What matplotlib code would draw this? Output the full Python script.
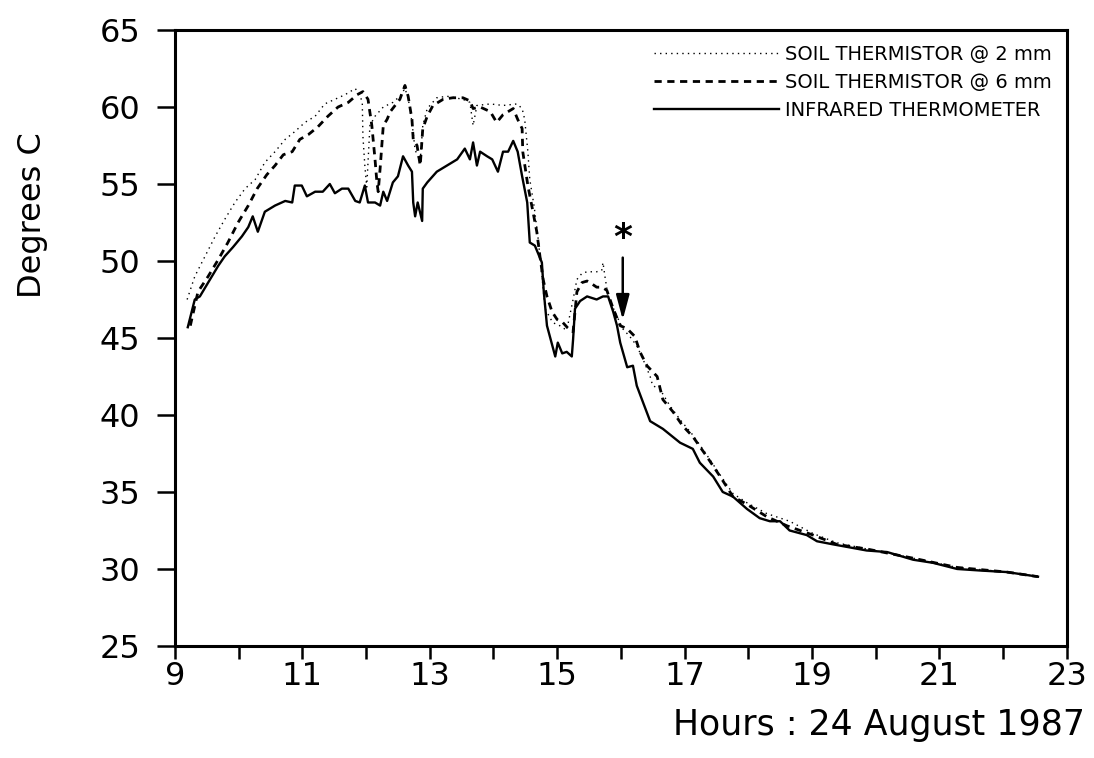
import matplotlib
matplotlib.use("Agg")
import matplotlib.pyplot as plt
from matplotlib.ticker import MultipleLocator, FuncFormatter

plt.rcParams['font.family'] = ['DejaVu Sans']

# ---- data (hours, degrees C) ----
ir_hours = [9.20, 9.31, 9.39, 9.52, 9.68, 9.78, 9.91, 10.05, 10.15, 10.22, 10.30, 10.41,
            10.57, 10.73, 10.84, 10.88, 10.99, 11.07, 11.20, 11.32, 11.43, 11.51, 11.62,
            11.72, 11.83, 11.90, 11.98, 12.03, 12.14, 12.22, 12.27, 12.33, 12.42, 12.50,
            12.58, 12.66, 12.72, 12.74, 12.77, 12.81, 12.88, 12.89, 12.96, 13.11, 13.27,
            13.43, 13.55, 13.63, 13.68, 13.74, 13.79, 13.90, 13.98, 14.07, 14.15, 14.23,
            14.31, 14.38, 14.45, 14.53, 14.57, 14.65, 14.76, 14.79, 14.84, 14.97, 15.01,
            15.08, 15.15, 15.23, 15.25, 15.28, 15.36, 15.47, 15.62, 15.72, 15.80, 15.88,
            15.94, 15.99, 16.10, 16.19, 16.25, 16.35, 16.46, 16.66, 16.93, 17.13, 17.24,
            17.45, 17.60, 17.76, 17.98, 18.18, 18.34, 18.50, 18.65, 18.92, 19.08, 19.33,
            19.86, 20.18, 20.59, 20.90, 21.28, 21.64, 22.06, 22.55]
ir_temp = [45.7, 47.5, 47.7, 48.6, 49.7, 50.3, 50.9, 51.6, 52.2, 52.9, 51.9, 53.2,
           53.6, 53.9, 53.8, 54.9, 54.9, 54.2, 54.5, 54.5, 55.0, 54.4, 54.7,
           54.7, 53.9, 53.8, 54.9, 53.8, 53.8, 53.6, 54.5, 53.9, 55.1, 55.5,
           56.8, 56.2, 55.8, 53.8, 52.9, 53.8, 52.6, 54.7, 55.1, 55.8, 56.2,
           56.6, 57.3, 56.6, 57.7, 56.2, 57.1, 56.8, 56.6, 55.8, 57.1, 57.1,
           57.8, 57.1, 55.5, 53.8, 51.2, 51.0, 49.9, 48.0, 45.8, 43.8, 44.7,
           44.0, 44.1, 43.8, 44.9, 46.9, 47.4, 47.7, 47.5, 47.7, 47.7, 46.7,
           45.8, 44.7, 43.1, 43.2, 41.9, 40.8, 39.6, 39.1, 38.2, 37.8, 36.9,
           36.0, 35.0, 34.7, 33.9, 33.3, 33.1, 33.1, 32.5, 32.2, 31.8, 31.6,
           31.2, 31.1, 30.6, 30.4, 30.0, 29.9, 29.8, 29.5]

t6_hours = [9.24, 9.36, 9.52, 9.68, 9.83, 9.99, 10.15, 10.29, 10.44, 10.57, 10.70, 10.84,
            10.96, 11.09, 11.24, 11.40, 11.56, 11.72, 11.86, 11.95, 12.03, 12.09, 12.14,
            12.17, 12.19, 12.22, 12.27, 12.33, 12.38, 12.53, 12.61, 12.66, 12.72, 12.74,
            12.80, 12.85, 12.89, 12.96, 13.05, 13.21, 13.36, 13.52, 13.63, 13.68, 13.79,
            13.95, 14.05, 14.15, 14.31, 14.38, 14.45, 14.46, 14.54, 14.62, 14.68, 14.73,
            14.78, 14.84, 14.92, 15.00, 15.09, 15.20, 15.25, 15.31, 15.39, 15.47, 15.55,
            15.62, 15.70, 15.78, 15.88, 15.99, 16.10, 16.22, 16.30, 16.41, 16.57, 16.66,
            16.82, 16.97, 17.13, 17.35, 17.56, 17.76, 17.98, 18.29, 18.61, 19.02, 19.39,
            19.86, 20.59, 21.28, 22.06, 22.55]
t6_temp = [45.8, 48.0, 49.0, 50.1, 51.2, 52.5, 53.6, 54.7, 55.6, 56.2, 56.9, 57.1,
           57.9, 58.2, 58.7, 59.4, 60.0, 60.3, 60.8, 61.0, 60.5, 58.8, 56.6,
           55.1, 54.5, 56.0, 58.8, 59.2, 59.7, 60.5, 61.4, 60.7, 59.2, 57.9,
           57.5, 56.2, 58.6, 59.4, 60.1, 60.5, 60.6, 60.6, 60.4, 59.9, 60.0,
           59.7, 59.0, 59.5, 59.9, 59.2, 58.6, 57.1, 54.9, 53.2, 51.9, 50.3,
           48.8, 47.7, 46.7, 46.2, 46.0, 45.5, 45.4, 48.0, 48.6, 48.7, 48.5,
           48.3, 48.3, 48.1, 46.9, 45.8, 45.6, 45.1, 44.1, 43.2, 42.5, 41.0,
           40.2, 39.3, 38.6, 37.3, 36.0, 34.7, 34.2, 33.4, 32.8, 32.2, 31.6,
           31.3, 30.7, 30.1, 29.8, 29.5]

t2_hours = [9.19, 9.31, 9.47, 9.63, 9.78, 9.94, 10.10, 10.26, 10.41, 10.57, 10.73, 10.88,
            11.04, 11.20, 11.35, 11.51, 11.67, 11.83, 11.90, 11.94, 11.95, 11.98, 12.01,
            12.06, 12.14, 12.27, 12.42, 12.53, 12.61, 12.66, 12.72, 12.77, 12.85, 12.89,
            12.96, 13.11, 13.27, 13.52, 13.63, 13.68, 13.74, 13.95, 14.15, 14.37, 14.45,
            14.49, 14.54, 14.57, 14.64, 14.70, 14.75, 14.81, 14.93, 15.04, 15.15, 15.25,
            15.31, 15.39, 15.47, 15.62, 15.70, 15.72, 15.75, 15.80, 15.94, 16.03, 16.14,
            16.25, 16.35, 16.46, 16.50, 16.61, 16.77, 16.93, 17.13, 17.35, 17.56, 17.76,
            17.98, 18.29, 18.65, 19.02, 19.39, 19.86, 20.59, 21.28, 22.06, 22.55]
t2_temp = [47.5, 49.0, 50.3, 51.6, 52.7, 53.8, 54.7, 55.3, 56.4, 57.1, 57.9, 58.4,
           59.0, 59.4, 60.2, 60.5, 60.8, 61.2, 60.8, 60.3, 58.1, 56.2, 54.8,
           58.8, 59.4, 60.0, 60.3, 60.7, 61.2, 60.6, 59.0, 57.2, 56.5, 58.8,
           59.9, 60.6, 60.7, 60.5, 60.3, 58.8, 60.1, 60.2, 60.1, 60.2, 59.9,
           59.2, 57.1, 55.3, 53.5, 51.5, 49.5, 46.9, 46.0, 45.8, 45.5, 47.5,
           48.8, 49.2, 49.3, 49.3, 49.4, 49.9, 49.0, 47.7, 46.4, 45.6, 45.1,
           44.5, 43.6, 42.5, 41.9, 41.7, 40.6, 39.7, 38.7, 37.4, 36.1, 34.9,
           34.3, 33.6, 33.1, 32.3, 31.7, 31.3, 30.7, 30.1, 29.8, 29.5]

labels = ["SOIL THERMISTOR @ 2 mm", "SOIL THERMISTOR @ 6 mm", "INFRARED THERMOMETER"]
x_range = (9, 23)
y_range = (25, 65)
marker_hour, marker_top, marker_tip = 16.03, 50.4, 46.0

# ---- figure ----
fig = plt.figure(figsize=(10.94, 7.58), dpi=100)
ax = fig.add_axes([0.160, 0.1478, 0.815, 0.8126])

ax.plot(t2_hours, t2_temp, color='black', lw=1.0, linestyle=(0, (1, 3)), label=labels[0])
ax.plot(t6_hours, t6_temp, color='black', lw=2.0, linestyle=(0, (2.6, 2.0)), label=labels[1])
ax.plot(ir_hours, ir_temp, color='black', lw=1.7, linestyle='-', label=labels[2])

ax.set_xlim(*x_range)
ax.set_ylim(*y_range)

ax.xaxis.set_major_locator(MultipleLocator(1))
ax.xaxis.set_major_formatter(FuncFormatter(lambda v, p: f"{int(round(v))}" if int(round(v)) % 2 == 1 else ""))
ax.yaxis.set_major_locator(MultipleLocator(5))

ax.tick_params(axis='x', direction='out', length=9, width=1.8, labelsize=23, pad=2)
ax.tick_params(axis='y', direction='out', length=13, width=1.8, labelsize=23, pad=12)
for s in ax.spines.values():
    s.set_linewidth(2.2)

leg = ax.legend(loc='upper right', bbox_to_anchor=(0.983, 0.976), frameon=False,
                fontsize=14, handlelength=6.4, handletextpad=0.3, labelspacing=0.47,
                borderpad=0, borderaxespad=0)

# asterisk and arrow marker
ax.text(marker_hour, 51.5, "*", ha='center', va='center', fontsize=26, fontweight='bold')
ax.annotate("", xy=(marker_hour, marker_tip), xytext=(marker_hour, marker_top),
            arrowprops=dict(arrowstyle='-|>,head_length=1.5,head_width=0.4', color='black', lw=1.8))

fig.text(0.030, 0.716, "Degrees C", rotation=90, ha='center', va='center', fontsize=23)
fig.text(0.992, 0.044, "Hours : 24 August 1987", ha='right', va='center', fontsize=25)

fig.savefig("out.png", dpi=100)
